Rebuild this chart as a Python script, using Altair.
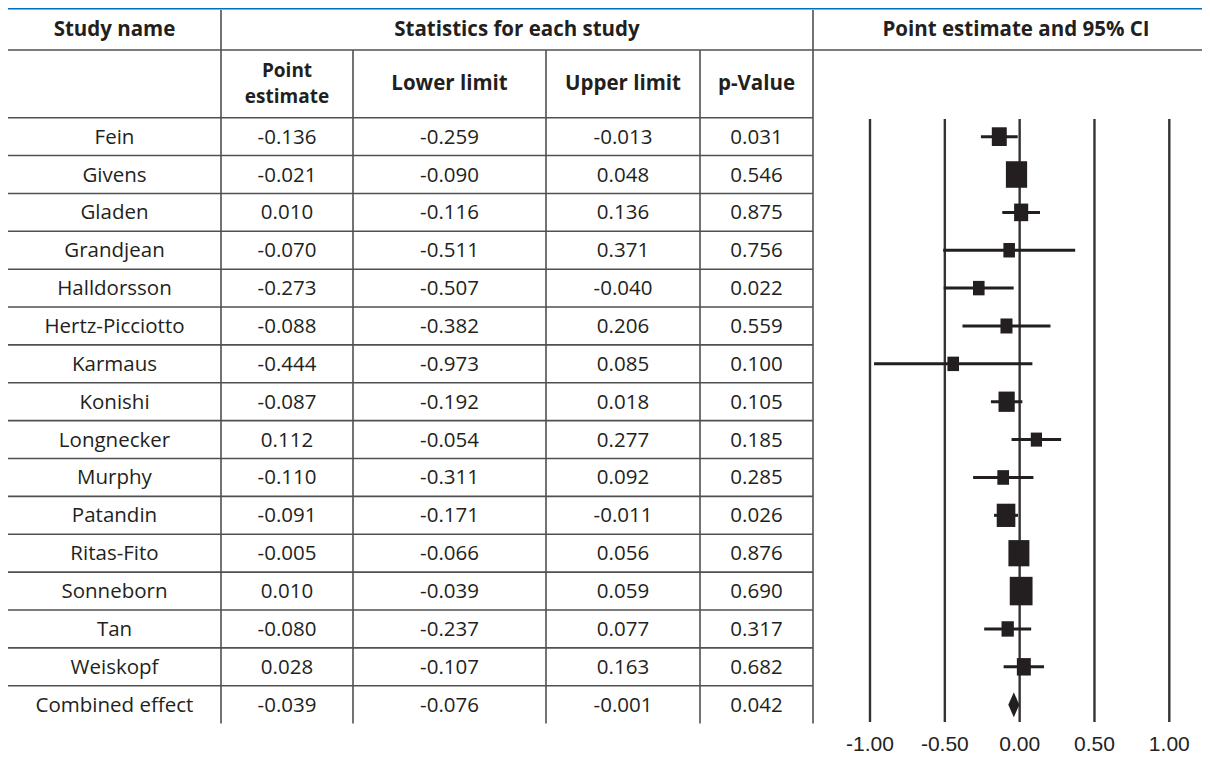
import altair as alt
import pandas as pd

# ---------------- data ----------------
studies = ["Fein", "Givens", "Gladen", "Grandjean", "Halldorsson", "Hertz-Picciotto",
           "Karmaus", "Konishi", "Longnecker", "Murphy", "Patandin", "Ritas-Fito",
           "Sonneborn", "Tan", "Weiskopf"]
point_est = [-0.136, -0.021, 0.010, -0.070, -0.273, -0.088, -0.444, -0.087, 0.112,
             -0.110, -0.091, -0.005, 0.010, -0.080, 0.028]
lower_lim = [-0.259, -0.090, -0.116, -0.511, -0.507, -0.382, -0.973, -0.192, -0.054,
             -0.311, -0.171, -0.066, -0.039, -0.237, -0.107]
upper_lim = [-0.013, 0.048, 0.136, 0.371, -0.040, 0.206, 0.085, 0.018, 0.277,
             0.092, -0.011, 0.056, 0.059, 0.077, 0.163]
p_values = [0.031, 0.546, 0.875, 0.756, 0.022, 0.559, 0.100, 0.105, 0.185,
            0.285, 0.026, 0.876, 0.690, 0.317, 0.682]
# relative box weights (%)
box_weight = [6.2, 12.5, 5.5, 3.7, 3.7, 4.0, 3.7, 7.3, 3.5, 3.8, 9.6, 12.2, 14.4, 4.2, 5.4]

combined_name = "Combined effect"
combined_point = -0.039
combined_lower = -0.076
combined_upper = -0.001
combined_p = 0.042

axis_ticks = [-1.0, -0.5, 0.0, 0.5, 1.0]

col_headers = [["Point", "estimate"], ["Lower limit"], ["Upper limit"], ["p-Value"]]

# ---------------- layout ----------------
W, H = 1194, 749
OX, OY = 8, 8


def px(x):
    return x - OX


def py(y):
    return y - OY


FONT = "Open Sans"
INK = "#231f20"
LINE = "#505050"
BLUE = "#0070ba"
FS = 20.5

all_names = studies + [combined_name]
ROW_TOP = py(117.7)
ROW_H = 37.87
ROW_BOT = ROW_TOP + ROW_H * len(all_names)

fmt = lambda v: f"{v:.3f}"

df_all = pd.DataFrame({
    "study": all_names,
    "pe_s": [fmt(v) for v in point_est + [combined_point]],
    "lo_s": [fmt(v) for v in lower_lim + [combined_lower]],
    "up_s": [fmt(v) for v in upper_lim + [combined_upper]],
    "p_s": [fmt(v) for v in p_values + [combined_p]],
})
df_st = pd.DataFrame({"study": studies, "point": point_est, "lower": lower_lim,
                      "upper": upper_lim, "weight": box_weight})
df_comb = pd.DataFrame({"study": [combined_name], "point": [combined_point],
                        "lower": [combined_lower], "upper": [combined_upper]})
df_ticks = pd.DataFrame({"v": axis_ticks, "lab": [f"{t:.2f}" for t in axis_ticks]})

yscale = alt.Scale(domain=all_names, range=[ROW_TOP, ROW_BOT], paddingInner=0, paddingOuter=0)
y_enc = alt.Y("study:N", scale=yscale, axis=None)
xs = alt.Scale(domain=[-1, 1], range=[px(870), px(1169.3)], zero=False, nice=False)

one = alt.Data(values=[{"a": 1}])
layers = []

# blue caption bar
layers.append(alt.Chart(one).mark_rect(color=BLUE).encode(
    x=alt.value(0), x2=alt.value(W), y=alt.value(0), y2=alt.value(py(9.5))))

# header horizontal line (full width)
layers.append(alt.Chart(one).mark_rule(color=LINE, strokeWidth=1.6).encode(
    x=alt.value(0), x2=alt.value(W), y=alt.value(py(50)), y2=alt.value(py(50))))

# vertical grid lines of the table
for cx, top in [(221, 10), (353, 50), (546, 50), (700, 50), (813, 10)]:
    layers.append(alt.Chart(one).mark_rule(color=LINE, strokeWidth=1.6).encode(
        x=alt.value(px(cx)), y=alt.value(py(top)), y2=alt.value(ROW_BOT)))

# row lines (top of each row)
layers.append(alt.Chart(df_all).mark_rule(color=LINE, strokeWidth=1.6).encode(
    y=alt.Y("study:N", scale=yscale, axis=None, bandPosition=0),
    x=alt.value(0), x2=alt.value(px(813))))

# header texts
hdr = dict(font=FONT, fontWeight="bold", color=INK, align="center", baseline="middle")
for txt, cx, cy in [("Study name", 114.5, 30), ("Statistics for each study", 517, 30),
                    ("Point estimate and 95% CI", 1016, 30)]:
    layers.append(alt.Chart(one).mark_text(text=txt, fontSize=FS, **hdr).encode(
        x=alt.value(px(cx)), y=alt.value(py(cy))))
for lines, cx in zip(col_headers, [287, 449.5, 623, 756.5]):
    if len(lines) == 1:
        pos, fs = [84], FS
    else:
        pos, fs = [70.5, 97], 19
    for txt, cy in zip(lines, pos):
        layers.append(alt.Chart(one).mark_text(text=txt, fontSize=fs, **hdr).encode(
            x=alt.value(px(cx)), y=alt.value(py(cy))))

# table body
for field, cx in [("study", 114.5), ("pe_s", 287), ("lo_s", 449.5), ("up_s", 623), ("p_s", 756.5)]:
    layers.append(alt.Chart(df_all).mark_text(font=FONT, fontSize=FS, color=INK,
                                              align="center", baseline="middle", dy=1).encode(
        x=alt.value(px(cx)), y=y_enc, text=f"{field}:N"))

# forest plot reference lines
layers.append(alt.Chart(df_ticks).mark_rule(color="#333333", strokeWidth=2.4).encode(
    x=alt.X("v:Q", scale=xs, axis=None), y=alt.value(py(119)), y2=alt.value(py(722))))

# CI lines
layers.append(alt.Chart(df_st).mark_rule(color=INK, strokeWidth=3).encode(
    x=alt.X("lower:Q", scale=xs, axis=None), x2="upper:Q", y=y_enc))

# weight boxes
SQ = "M-0.8,-1L0.8,-1L0.8,1L-0.8,1Z"
layers.append(alt.Chart(df_st).mark_point(shape=SQ, filled=True, opacity=1, color=INK,
                                          strokeWidth=0).encode(
    x=alt.X("point:Q", scale=xs, axis=None), y=y_enc,
    size=alt.Size("weight:Q", scale=alt.Scale(domain=[0, 14.4], range=[0, 812]), legend=None)))

# combined diamond
DIA = "M-0.44,0L0,-1L0.44,0L0,1Z"
layers.append(alt.Chart(df_comb).mark_point(shape=DIA, filled=True, opacity=1, color=INK,
                                            strokeWidth=0, size=625).encode(
    x=alt.X("point:Q", scale=xs, axis=None), y=y_enc))

# axis labels
layers.append(alt.Chart(df_ticks).mark_text(font="Liberation Sans", fontSize=21, color="#222222",
                                            align="center", baseline="middle").encode(
    x=alt.X("v:Q", scale=xs, axis=None), y=alt.value(py(745)), text="lab:N"))

chart = alt.layer(*layers).properties(
    width=W, height=H, autosize=alt.AutoSizeParams(type="none"), padding=0
).configure_view(stroke=None)

chart.save("out.html", embed_options={"renderer": "svg", "actions": False})
